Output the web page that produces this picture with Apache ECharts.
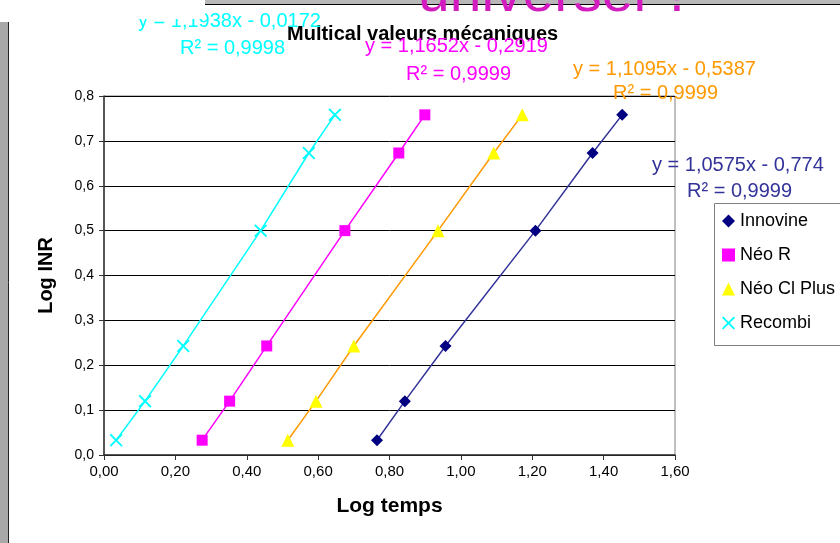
<!doctype html>
<html>
<head>
<meta charset="utf-8">
<title>Multical valeurs mécaniques</title>
<script src="https://cdn.jsdelivr.net/npm/echarts@6/dist/echarts.min.js"></script>
<style>
  html, body { margin: 0; padding: 0; background: #fff; }
  #main { width: 840px; height: 543px; }
</style>
</head>
<body>
<div id="main"></div>
<script>
// valeurs (log INR commun aux 4 réactifs)
var logInr = [0.033, 0.12, 0.243, 0.5, 0.673, 0.758];
var innovineX = [0.765, 0.843, 0.957, 1.209, 1.369, 1.452];
var neoRX = [0.275, 0.352, 0.456, 0.675, 0.826, 0.899];
var neoClPlusX = [0.515, 0.594, 0.700, 0.936, 1.092, 1.172];
var recombiX = [0.034, 0.115, 0.222, 0.439, 0.574, 0.647];
var names = ['Innovine', 'Néo R', 'Néo Cl Plus', 'Recombi'];
var equations = [
  ['y = 1,0575x - 0,774', 'R² = 0,9999'],
  ['y = 1,1652x - 0,2919', 'R² = 0,9999'],
  ['y = 1,1095x - 0,5387', 'R² = 0,9999'],
  ['y = 1,1938x - 0,0172', 'R² = 0,9998']
];

var font = '"Liberation Sans", Arial, sans-serif';
var crossPath = 'path://M0,1L1,0L5,4L9,0L10,1L6,5L10,9L9,10L5,6L1,10L0,9L4,5Z';

function pairs(xs) {
  return xs.map(function (x, i) { return [x, logInr[i]]; });
}
function comma(v, d) { return v.toFixed(d).replace('.', ','); }

function eqText(txt, x, y, color) {
  return { type: 'text', x: x, y: y, z: 20,
    style: { text: txt, fill: color, font: '20px ' + font, textVerticalAlign: 'top' } };
}

var chart = echarts.init(document.getElementById('main'));
var option = {
  backgroundColor: '#fff',
  animation: false,
  textStyle: { fontFamily: font },
  title: {
    text: 'Multical valeurs mécaniques',
    left: 287, top: 24, padding: 0,
    textStyle: { fontSize: 20, fontWeight: 'bold', color: '#000', fontFamily: font }
  },
  grid: {
    left: 104, right: 165, top: 96, bottom: 88,
    show: true, borderColor: '#808080', borderWidth: 1, backgroundColor: '#fff'
  },
  legend: {
    orient: 'vertical', left: 722, top: 212, padding: 0,
    itemWidth: 13, itemHeight: 13, itemGap: 16,
    textStyle: { fontSize: 18, color: '#000', lineHeight: 18, fontFamily: font },
    data: [
      { name: names[0], icon: 'diamond' },
      { name: names[1], icon: 'rect' },
      { name: names[2], icon: 'triangle' },
      { name: names[3], icon: crossPath }
    ]
  },
  xAxis: {
    type: 'value', min: 0, max: 1.6, interval: 0.2,
    name: 'Log temps', nameLocation: 'middle', nameGap: 41,
    nameTextStyle: { fontSize: 21, fontWeight: 'bold', color: '#000' },
    axisLine: { lineStyle: { color: '#333', width: 1.5 } },
    axisTick: { show: true, length: 5, lineStyle: { color: '#333' } },
    axisLabel: { fontSize: 15, color: '#000', margin: 9,
      formatter: function (v) { return comma(v, 2); } },
    splitLine: { show: false }
  },
  yAxis: {
    type: 'value', min: 0, max: 0.8, interval: 0.1,
    name: 'Log INR', nameLocation: 'middle', nameGap: 48,
    nameTextStyle: { fontSize: 20, fontWeight: 'bold', color: '#000' },
    axisLine: { show: true, lineStyle: { color: '#333', width: 1.5 } },
    axisTick: { show: true, length: 5, lineStyle: { color: '#333' } },
    axisLabel: { fontSize: 14, color: '#000', margin: 10,
      formatter: function (v) { return comma(v, 1); } },
    splitLine: { show: true, lineStyle: { color: '#000', width: 1 } }
  },
  series: [
    { name: names[0], type: 'line', data: pairs(innovineX), symbol: 'diamond', symbolSize: 12,
      itemStyle: { color: '#000080' }, lineStyle: { color: '#333399', width: 1.5 }, z: 5 },
    { name: names[1], type: 'line', data: pairs(neoRX), symbol: 'rect', symbolSize: 11,
      itemStyle: { color: '#FF00FF' }, lineStyle: { color: '#FF00FF', width: 1.5 }, z: 5 },
    { name: names[2], type: 'line', data: pairs(neoClPlusX), symbol: 'triangle', symbolSize: 13,
      itemStyle: { color: '#FFFF00' }, lineStyle: { color: '#FF9900', width: 1.5 }, z: 5 },
    { name: names[3], type: 'line', data: pairs(recombiX), symbol: crossPath, symbolSize: 13,
      itemStyle: { color: '#00FFFF' }, lineStyle: { color: '#00FFFF', width: 1.5 }, z: 5 }
  ],
  graphic: [
    // bordure gauche et bandeau du haut (diapo)
    { type: 'rect', shape: { x: 0, y: 22, width: 8, height: 521 }, style: { fill: '#a8a8a8' }, z: 30 },
    { type: 'line', shape: { x1: 8.5, y1: 22, x2: 8.5, y2: 543 }, style: { stroke: '#222', lineWidth: 1 }, z: 30 },
    { type: 'rect', shape: { x: 205, y: 0, width: 635, height: 4 }, style: { fill: '#b8b8b8' }, z: 30 },
    { type: 'line', shape: { x1: 205, y1: 4.5, x2: 840, y2: 4.5 }, style: { stroke: '#000', lineWidth: 1 }, z: 30 },
    { type: 'text', x: 418, y: 24, z: 31,
      style: { text: 'universel ?', fill: '#D21CC0', font: '57px ' + font, textVerticalAlign: 'bottom' } },
    // cadre de la légende
    { type: 'rect', shape: { x: 714.5, y: 203.5, width: 140, height: 142 },
      style: { fill: '#fff', stroke: '#808080', lineWidth: 1 }, z: 0 },
    // équations des courbes de tendance
    eqText(equations[3][0], 138, 11, '#00FFFF'),
    eqText(equations[3][1], 180, 38, '#00FFFF'),
    eqText(equations[1][0], 365, 36, '#FF00FF'),
    eqText(equations[1][1], 406, 64, '#FF00FF'),
    eqText(equations[2][0], 573, 59, '#FF9900'),
    eqText(equations[2][1], 613, 83, '#FF9900'),
    eqText(equations[0][0], 652, 155, '#333399'),
    eqText(equations[0][1], 687, 181, '#333399'),
    // zone blanche qui masque le haut de la première équation
    { type: 'rect', shape: { x: 10, y: 0, width: 195, height: 19 }, style: { fill: '#fff' }, z: 25 }
  ]
};
chart.setOption(option);
</script>
</body>
</html>
